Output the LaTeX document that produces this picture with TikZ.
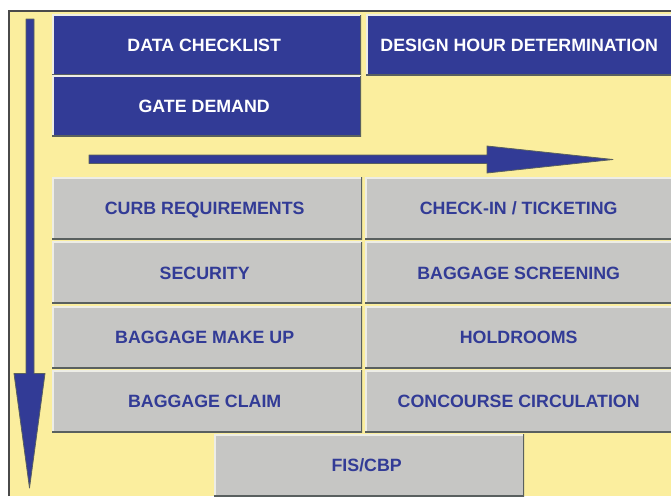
\documentclass[tikz,border=0pt]{standalone}
\usepackage{fontspec}
\setmainfont{Liberation Sans}
\definecolor{panelY}{HTML}{FBEE9E}
\definecolor{navy}{HTML}{323B96}
\definecolor{btnGrey}{HTML}{C6C6C4}
\definecolor{edgeDark}{HTML}{59605F}
\definecolor{edgeLight}{HTML}{EDEDE6}
\definecolor{frameC}{HTML}{4A4A4A}
\tikzset{
  btn/.style={rectangle,inner sep=0pt,anchor=north west,text height=12.7pt,text depth=0pt,
    font=\bfseries\fontsize{17.8}{20}\selectfont,
    path picture={
      \draw[edgeLight,line width=2.6pt] (path picture bounding box.south west)--(path picture bounding box.north west)--(path picture bounding box.north east);
      \draw[edgeDark,line width=3pt] (path picture bounding box.south west)--(path picture bounding box.south east)--(path picture bounding box.north east);
    }},
  bluebtn/.style={btn,fill=navy,text=white},
  greybtn/.style={btn,fill=btnGrey,text=navy},
  btnsize/.style 2 args={minimum width=#1pt,minimum height=#2pt},
  nudged/.style={execute at begin node={\hspace*{-5pt}}},
  shaft/.style={draw=edgeDark,line width=0.8pt,fill=navy,line join=round},
}
\begin{document}
\begin{tikzpicture}[x=1pt,y=-1pt]
\useasboundingbox (0,0) rectangle (671,496);
\fill[white] (0,0) rectangle (671,496);
\fill[panelY] (9,11) rectangle (671,496);
\draw[frameC,line width=1.4pt] (9,496)--(9,11)--(671,11);
% buttons
\node[bluebtn,nudged,btnsize={309}{61}] (data) at (52,14.5) {DATA CHECKLIST};
\node[bluebtn,nudged,btnsize={309}{61}] (gate) at (52,75.5) {GATE DEMAND};
\node[bluebtn,btnsize={306}{61}] (hour) at (366,14.5) {DESIGN HOUR DETERMINATION};
\node[greybtn,nudged,btnsize={310}{62}] (curb) at (52,177) {CURB REQUIREMENTS};
\node[greybtn,btnsize={307}{62}] (check) at (365,177) {CHECK-IN / TICKETING};
\node[greybtn,nudged,btnsize={310}{62}] (sec) at (52,241.5) {SECURITY};
\node[greybtn,btnsize={307}{62}] (screen) at (365,241.5) {BAGGAGE SCREENING};
\node[greybtn,nudged,btnsize={310}{62}] (makeup) at (52,306) {BAGGAGE MAKE UP};
\node[greybtn,btnsize={307}{62}] (hold) at (365,306) {HOLDROOMS};
\node[greybtn,nudged,btnsize={310}{62}] (claim) at (52,370) {BAGGAGE CLAIM};
\node[greybtn,btnsize={307}{62}] (conc) at (365,370) {CONCOURSE CIRCULATION};
\node[greybtn,nudged,btnsize={310}{62}] (fis) at (214,434) {FIS/CBP};
% arrows
\draw[shaft] (26,19)--(34,19)--(34,373.5)--(45,373.5)--(29.5,488)--(14,373.5)--(26,373.5)--cycle;
\draw[shaft] (89,155)--(487,155)--(487,146)--(613,159.5)--(487,173)--(487,163.5)--(89,163.5)--cycle;
\end{tikzpicture}
\end{document}
